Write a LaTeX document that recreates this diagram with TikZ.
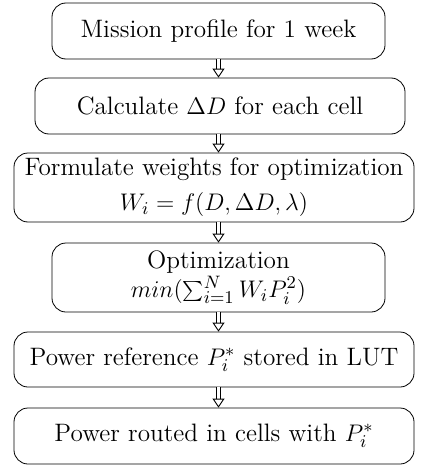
\documentclass[tikz,border=0pt]{standalone}
\usetikzlibrary{arrows.meta}

\begin{document}
\begin{tikzpicture}[x = 0.5pt, y = -0.5pt,
    stage/.style = {shape = rectangle, draw, rounded corners = 7pt, align = center, font = \fontsize{12.6}{14.5}\selectfont, inner sep = 2pt},
    flow/.style = {double, double distance = 1.8pt, -{Triangle[open, width = 6pt, length = 4.5pt, line width = 0.45pt]}}]
    \useasboundingbox (0,0) rectangle (424,466);
    \node [stage, minimum width = 166.5pt, minimum height = 28pt] (profile) at (218.5,31) {Mission profile for 1 week};
    \node [stage, minimum width = 185pt, minimum height = 28pt] (delta) at (220,106) {Calculate $\Delta D$ for each cell};
    \node [stage, minimum width = 200pt, minimum height = 34.5pt] (weights) at (214,187.5) {Formulate weights for optimization\\[3pt] $W_i = f(D, \Delta D, \lambda)$};
    \node [stage, minimum width = 166.5pt, minimum height = 34.5pt] (optim) at (218.5,277.5) {Optimization\\ $min(\sum_{i=1}^{N} W_i P_i^2)$};
    \node [stage, minimum width = 200pt, minimum height = 27.5pt] (lut) at (214,359.5) {Power reference $P_i^*$ stored in LUT};
    \node [stage, minimum width = 200pt, minimum height = 28pt] (routed) at (214,436) {Power routed in cells with $P_i^*$};
    \draw [flow] (profile.south) -- (profile.south |- delta.north);
    \draw [flow] (profile.south |- delta.south) -- (profile.south |- weights.north);
    \draw [flow] (profile.south |- weights.south) -- (profile.south |- optim.north);
    \draw [flow] (optim.south) -- (optim.south |- lut.north);
    \draw [flow] (optim.south |- lut.south) -- (optim.south |- routed.north);
\end{tikzpicture}
\end{document}
